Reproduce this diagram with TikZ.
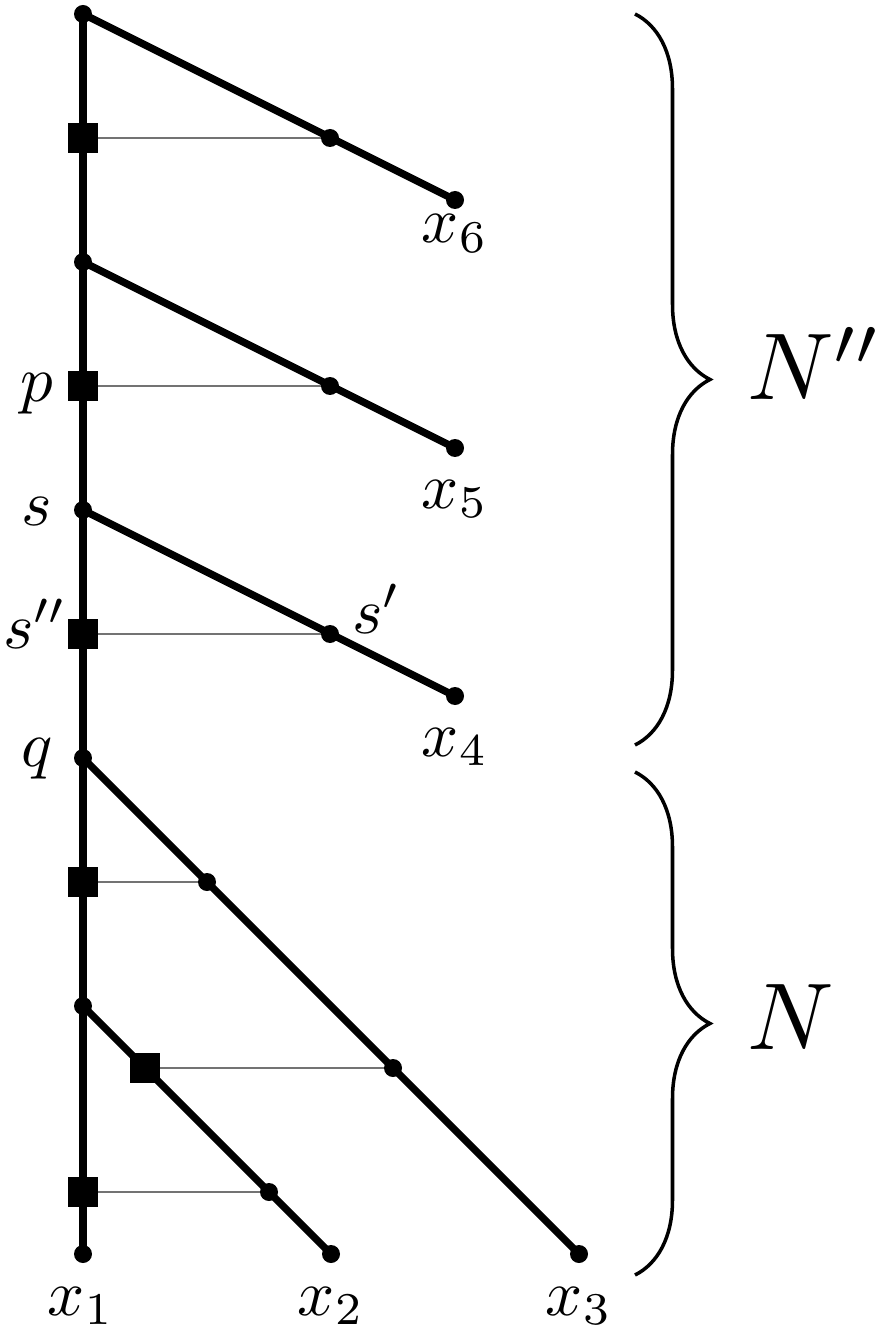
\documentclass[tikz,border=0pt]{standalone}
\usepackage{graphicx}
\usetikzlibrary{decorations.pathreplacing}
\begin{document}
\begin{tikzpicture}[x=0.02cm,y=-0.02cm,
  dot/.style={circle,fill,inner sep=0pt,minimum size=0.36cm},
  sq/.style={rectangle,fill,inner sep=0pt,minimum size=0.6cm},
  thickline/.style={line width=4.2pt},
  thinline/.style={line width=1.1pt,black!55},
  lab/.style={inner sep=0pt,anchor=base},
  biglab/.style={inner sep=0pt,anchor=base west},
  bracestyle/.style={decorate,decoration={brace,amplitude=1.5cm},line width=2pt}
]
\useasboundingbox (0,0) rectangle (880,1334);
% vertical nodes
\node[dot] (v0) at (83,14) {};
\node[sq]  (sq1) at (83,138) {};
\node[dot] (v1) at (83,262) {};
\node[sq]  (sq2) at (83,386) {};
\node[dot] (v2) at (83,510) {};
\node[sq]  (sq3) at (83,634) {};
\node[dot] (v3) at (83,758) {};
\node[sq]  (sq4) at (83,882) {};
\node[dot] (v4) at (83,1006) {};
\node[sq]  (sq5) at (83,1192) {};
\node[dot] (x1) at (83,1254) {};
% diagonal nodes
\node[dot] (d6) at (330,138) {};
\node[dot] (x6) at (455,200) {};
\node[dot] (d5) at (330,386) {};
\node[dot] (x5) at (455,448) {};
\node[dot] (d4) at (330,634) {};
\node[dot] (x4) at (455,696) {};
\node[dot] (d3) at (207,882) {};
\node[dot] (e3) at (393,1068) {};
\node[dot] (x3) at (579,1254) {};
\node[sq]  (sq6) at (145,1068) {};
\node[dot] (d2) at (269,1192) {};
\node[dot] (x2) at (331,1254) {};
% thick lines
\draw[thickline] (v0.center) -- (x1.center);
\draw[thickline] (v0.center) -- (x6.center);
\draw[thickline] (v1.center) -- (x5.center);
\draw[thickline] (v2.center) -- (x4.center);
\draw[thickline] (v3.center) -- (x3.center);
\draw[thickline] (v4.center) -- (x2.center);
% thin lines
\draw[thinline] (sq1) -- (d6);
\draw[thinline] (sq2) -- (d5);
\draw[thinline] (sq3) -- (d4);
\draw[thinline] (sq4) -- (d3);
\draw[thinline] (sq6) -- (e3);
\draw[thinline] (sq5) -- (d2);
% labels
\node[lab] (lx6) at (455,243) {\scalebox{3.7}{$x_6$}};
\node[lab] (lx5) at (455,508) {\scalebox{3.7}{$x_5$}};
\node[lab] (lx4) at (455,756) {\scalebox{3.7}{$x_4$}};
\node[lab] (lx1) at (81,1315) {\scalebox{3.7}{$x_1$}};
\node[lab] (lx2) at (331,1315) {\scalebox{3.7}{$x_2$}};
\node[lab] (lx3) at (579,1315) {\scalebox{3.7}{$x_3$}};
\node[lab] (lp) at (37,401) {\scalebox{3.7}{$p$}};
\node[lab] (ls) at (37,525) {\scalebox{3.7}{$s$}};
\node[lab] (lss) at (35,648) {\scalebox{3.7}{$s''$}};
\node[lab] (lq) at (37,766) {\scalebox{3.7}{$q$}};
\node[lab,anchor=base west] (lsp) at (352,633) {\scalebox{3.7}{$s'$}};
% braces
\coordinate (b1t) at (635,14);
\coordinate (b1b) at (635,745);
\coordinate (b2t) at (635,772);
\coordinate (b2b) at (635,1275);
\draw[bracestyle] (b1t) -- (b1b);
\draw[bracestyle] (b2t) -- (b2b);
\node[biglab] (lNpp) at (747,399) {\scalebox{5.4}{$N''$}};
\node[biglab] (lN) at (747,1049) {\scalebox{5.4}{$N$}};
\end{tikzpicture}
\end{document}
